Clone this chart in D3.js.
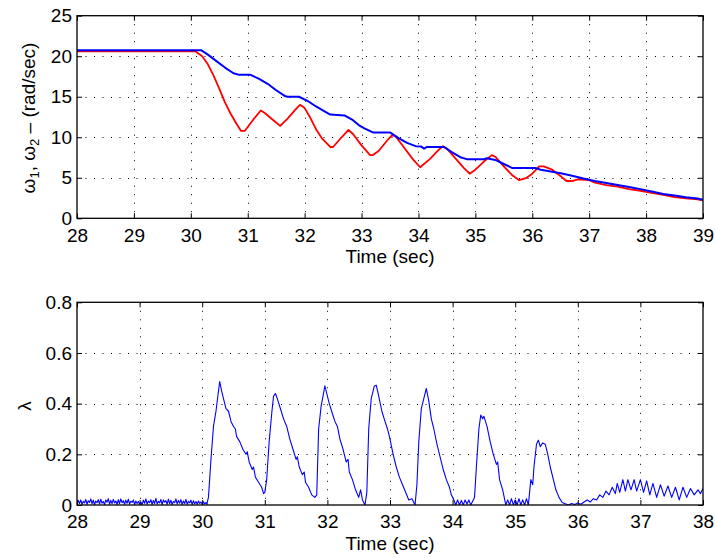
<!DOCTYPE html>
<html><head><meta charset="utf-8">
<script src="https://cdn.jsdelivr.net/npm/d3@7/dist/d3.min.js"></script>
<style>
body{margin:0;background:#fff;}
text{font-family:"Liberation Sans",Arial,Helvetica,sans-serif;}
</style></head>
<body><svg id="c" width="716" height="558"></svg>
<script>
// ---- Data ----
const timeTicksTop = [28,29,30,31,32,33,34,35,36,37,38,39];
const omegaTicks = [0,5,10,15,20,25];
const timeTicksBottom = [28,29,30,31,32,33,34,35,36,37,38];
const lambdaTicks = [0,0.2,0.4,0.6,0.8];
const lambdaTickLabels = ["0","0.2","0.4","0.6","0.8"];

// omega_1 (red)
const omega1 = [[28,20.6],[30.08,20.6],[30.2,20.0],[30.3,19.0],[30.4,17.6],[30.5,16.0],[30.6,14.3],[30.7,12.9],[30.8,11.7],[30.88,10.8],[30.95,10.8],[31.1,12.2],[31.23,13.3],[31.3,13.0],[31.45,12.1],[31.57,11.4],[31.7,12.3],[31.85,13.5],[31.92,14.0],[32.0,13.6],[32.1,12.4],[32.2,11.0],[32.3,9.9],[32.45,8.8],[32.5,8.8],[32.65,10.0],[32.77,10.9],[32.85,10.4],[33.0,9.0],[33.15,7.8],[33.2,7.8],[33.3,8.3],[33.45,9.6],[33.54,10.3],[33.6,10.1],[33.75,8.7],[33.9,7.3],[34.03,6.3],[34.2,7.3],[34.35,8.4],[34.43,8.9],[34.5,8.6],[34.65,7.4],[34.8,6.2],[34.9,5.5],[35.0,6.0],[35.15,7.0],[35.29,7.8],[35.35,7.6],[35.5,6.4],[35.65,5.3],[35.77,4.7],[35.9,5.0],[36.0,5.5],[36.12,6.4],[36.2,6.4],[36.35,6.0],[36.5,5.2],[36.6,4.6],[36.7,4.6],[36.8,4.8],[37.0,4.7],[37.1,4.4],[37.3,4.1],[37.5,3.9],[37.7,3.6],[37.9,3.4],[38.1,3.15],[38.3,2.9],[38.5,2.6],[38.7,2.45],[38.9,2.35],[39,2.2]];

// omega_2 (blue)
const omega2 = [[28,20.75],[30.18,20.75],[30.3,20.2],[30.45,19.4],[30.6,18.6],[30.75,17.9],[30.85,17.7],[31.05,17.7],[31.2,17.2],[31.35,16.6],[31.5,15.8],[31.65,15.1],[31.7,15.0],[31.9,15.0],[32.05,14.5],[32.2,13.8],[32.35,13.2],[32.45,12.8],[32.7,12.7],[32.85,12.1],[32.95,11.5],[33.05,11.1],[33.2,10.6],[33.5,10.6],[33.65,9.9],[33.8,9.3],[33.95,8.9],[34.05,8.85],[34.1,8.6],[34.15,8.8],[34.45,8.8],[34.6,8.1],[34.75,7.5],[34.85,7.3],[35.15,7.3],[35.2,7.4],[35.35,7.2],[35.5,6.7],[35.65,6.2],[36.05,6.2],[36.15,6.0],[36.3,5.8],[36.5,5.55],[36.7,5.25],[36.9,4.9],[37.1,4.6],[37.3,4.35],[37.5,4.1],[37.7,3.85],[37.9,3.6],[38.1,3.3],[38.3,3.0],[38.5,2.8],[38.7,2.6],[38.9,2.45],[39,2.3]];

// lambda: pre-event chatter (sampled every 0.02 s from t = 28)
const lambdaNoiseStart = 28, lambdaNoiseStep = 0.02;
const lambdaNoise = [0.004,0.018,0.006,0.02,0.002,0.015,0.008,0.022,0.003,0.017,0.01,0.024,0.005,0.019,0.001,0.016,0.009,0.021,0.004,0.023,0.007,0.014,0.002,0.02,0.011,0.025,0.003,0.018,0.006,0.022,0.008,0.016,0.002,0.021,0.005,0.024,0.009,0.017,0.003,0.019,0.007,0.023,0.004,0.015,0.01,0.02,0.002,0.016,0.006,0.014,0.003,0.012,
0.001,0.019,0.007,0.024,0.003,0.016,0.009,0.021,0.002,0.018,0.006,0.026,0.004,0.015,0.008,0.022,0.001,0.02,0.011,0.017,0.003,0.023,0.005,0.019,0.002,0.014,0.009,0.024,0.004,0.018,0.007,0.021,0.002,0.016,0.006,0.022,0.003,0.015,0.008,0.019,0.002,0.017,0.005,0.014,0.003,0.016,0.006,0.012,0.002,0.013,0.004,0.01,0.003];

// lambda: main response
const lambdaMain = [[30.08,0.01],[30.1,0.03],[30.14,0.18],[30.18,0.31],[30.22,0.37],[30.25,0.43],[30.28,0.487],[30.31,0.45],[30.35,0.41],[30.38,0.38],[30.42,0.37],[30.46,0.33],[30.5,0.31],[30.53,0.3],[30.55,0.27],[30.6,0.25],[30.65,0.22],[30.7,0.2],[30.72,0.21],[30.75,0.17],[30.8,0.14],[30.82,0.15],[30.85,0.11],[30.9,0.09],[30.95,0.07],[30.98,0.045],[31.0,0.05],[31.03,0.1],[31.07,0.25],[31.11,0.36],[31.14,0.43],[31.17,0.44],[31.2,0.42],[31.25,0.38],[31.3,0.34],[31.35,0.31],[31.4,0.26],[31.45,0.22],[31.5,0.18],[31.52,0.19],[31.55,0.15],[31.6,0.12],[31.63,0.13],[31.65,0.09],[31.7,0.07],[31.75,0.04],[31.8,0.03],[31.83,0.04],[31.86,0.3],[31.9,0.39],[31.93,0.43],[31.96,0.47],[31.99,0.44],[32.03,0.4],[32.08,0.36],[32.12,0.33],[32.16,0.31],[32.2,0.26],[32.25,0.22],[32.3,0.17],[32.33,0.18],[32.35,0.13],[32.4,0.1],[32.45,0.06],[32.5,0.03],[32.53,0.06],[32.56,0.02],[32.6,0.0],[32.63,0.05],[32.66,0.3],[32.7,0.42],[32.75,0.47],[32.78,0.473],[32.82,0.43],[32.87,0.37],[32.92,0.33],[32.96,0.3],[33.0,0.26],[33.05,0.2],[33.1,0.15],[33.15,0.11],[33.2,0.08],[33.25,0.05],[33.3,0.02],[33.35,0.025],[33.4,0.0],[33.43,0.08],[33.46,0.25],[33.5,0.38],[33.53,0.41],[33.58,0.46],[33.62,0.41],[33.66,0.34],[33.7,0.3],[33.75,0.24],[33.8,0.19],[33.85,0.14],[33.9,0.1],[33.95,0.07],[33.98,0.04],[34.02,0.02],[34.05,0.0],[34.08,0.02],[34.11,0.0],[34.14,0.018],[34.17,0.0],[34.2,0.02],[34.23,0.004],[34.26,0.02],[34.29,0.0],[34.32,0.015],[34.35,0.03],[34.38,0.15],[34.42,0.3],[34.45,0.355],[34.48,0.34],[34.5,0.35],[34.55,0.31],[34.6,0.25],[34.65,0.2],[34.7,0.16],[34.72,0.17],[34.75,0.1],[34.8,0.06],[34.85,0.0],[34.88,0.02],[34.91,0.0],[34.94,0.025],[34.97,0.0],[35.0,0.02],[35.03,0.0],[35.06,0.025],[35.09,0.0],[35.12,0.02],[35.15,0.0],[35.18,0.025],[35.21,0.0],[35.25,0.1],[35.28,0.08],[35.3,0.15],[35.34,0.24],[35.37,0.256],[35.4,0.23],[35.44,0.245],[35.48,0.24],[35.52,0.2],[35.56,0.15],[35.6,0.11],[35.65,0.06],[35.7,0.03],[35.75,0.01],[35.8,0.005],[35.85,0.0],[35.9,0.006],[35.95,0.002],[36.0,0.008],[36.05,0.003],[36.1,0.012],[36.15,0.02],[36.2,0.012],[36.25,0.025],[36.3,0.02],[36.35,0.04],[36.4,0.03],[36.45,0.055],[36.5,0.04],[36.55,0.07],[36.6,0.045],[36.63,0.085],[36.67,0.05],[36.72,0.1],[36.76,0.055],[36.8,0.1],[36.85,0.06],[36.9,0.1],[36.94,0.055],[37.0,0.1],[37.05,0.05],[37.1,0.095],[37.15,0.04],[37.2,0.085],[37.26,0.03],[37.32,0.08],[37.38,0.035],[37.44,0.075],[37.5,0.03],[37.56,0.07],[37.62,0.02],[37.68,0.07],[37.74,0.03],[37.8,0.065],[37.86,0.04],[37.92,0.06],[37.96,0.045],[38.0,0.065]];

// ---- Drawing ----
const svg = d3.select("#c");
const FS = 19;

function panel(opts){
  const {left,right,top,bottom,xDomain,yDomain,xTicks,yTicks,yFmt,xPad,id} = opts;
  const x = d3.scaleLinear().domain(xDomain).range([left,right]);
  const y = d3.scaleLinear().domain(yDomain).range([bottom,top]);
  const g = svg.append("g");
  const grid = g.append("g").attr("stroke","#000").attr("stroke-width",1).attr("stroke-dasharray","1,7.5");
  grid.selectAll(".gx").data(xTicks.slice(1,-1)).enter().append("line")
    .attr("x1",d=>Math.round(x(d))+0.5).attr("x2",d=>Math.round(x(d))+0.5).attr("y1",top).attr("y2",bottom);
  grid.selectAll(".gy").data(yTicks.slice(1,-1)).enter().append("line")
    .attr("y1",d=>Math.round(y(d))+0.5).attr("y2",d=>Math.round(y(d))+0.5).attr("x1",left).attr("x2",right);
  svg.append("clipPath").attr("id",id).append("rect").attr("x",left).attr("y",top-1).attr("width",right-left).attr("height",bottom-top+1);
  const lines = g.append("g").attr("clip-path",`url(#${id})`);
  const ax = (gen)=>gen.tickSizeInner(-5).tickSizeOuter(0);
  const bx = g.append("g").attr("transform",`translate(0,${bottom})`)
    .call(ax(d3.axisBottom(x).tickValues(xTicks).tickFormat(d3.format("d"))).tickPadding(xPad));
  const tx = g.append("g").attr("transform",`translate(0,${top})`)
    .call(ax(d3.axisTop(x).tickValues(xTicks).tickFormat("")));
  const ly = g.append("g").attr("transform",`translate(${left},0)`)
    .call(ax(d3.axisLeft(y).tickValues(yTicks).tickFormat(yFmt)).tickPadding(5));
  const ry = g.append("g").attr("transform",`translate(${right},0)`)
    .call(ax(d3.axisRight(y).tickValues(yTicks).tickFormat("")));
  [bx,tx,ly,ry].forEach(a=>{
    a.select(".domain").remove();
    a.selectAll("line").attr("stroke","#000").attr("stroke-width",1);
    a.selectAll("text").attr("font-size",FS).attr("fill","#000").attr("font-family","Liberation Sans, Arial, sans-serif");
  });
  g.append("rect").attr("x",left).attr("y",top).attr("width",right-left).attr("height",bottom-top)
    .attr("fill","none").attr("stroke","#000").attr("stroke-width",1.3);
  return {x,y,lines};
}

// Top panel
const p1 = panel({left:77,right:703,top:15.7,bottom:218.3,xDomain:[28,39],yDomain:[0,25],
  xTicks:timeTicksTop,yTicks:omegaTicks,yFmt:d3.format("d"),xPad:10,id:"clip1"});
const line1 = d3.line().x(d=>p1.x(d[0])).y(d=>p1.y(d[1]));
p1.lines.append("path").attr("d",line1(omega1)).attr("fill","none").attr("stroke","#ff0000").attr("stroke-width",1.8).attr("stroke-linejoin","round");
p1.lines.append("path").attr("d",line1(omega2)).attr("fill","none").attr("stroke","#0000ff").attr("stroke-width",2).attr("stroke-linejoin","round");

svg.append("text").attr("x",390).attr("y",263).attr("text-anchor","middle").attr("font-size",FS).text("Time (sec)");
const yl = svg.append("text").attr("transform","translate(35,118) rotate(-90)").attr("text-anchor","middle").attr("font-size",FS);
yl.append("tspan").text("ω");
yl.append("tspan").attr("font-size",13).attr("dy",4).text("1");
yl.append("tspan").attr("dy",-4).text(", ω");
yl.append("tspan").attr("font-size",13).attr("dy",4).text("2");
yl.append("tspan").attr("dy",-4).text(" – (rad/sec)");

// Bottom panel
const p2 = panel({left:77,right:703,top:302.3,bottom:505,xDomain:[28,38],yDomain:[0,0.8],
  xTicks:timeTicksBottom,yTicks:lambdaTicks,yFmt:(d,i)=>lambdaTickLabels[i],xPad:9.5,id:"clip2"});
const noisePts = lambdaNoise.map((v,i)=>[lambdaNoiseStart+i*lambdaNoiseStep,v]);
const lambdaAll = noisePts.concat(lambdaMain);
const line2 = d3.line().x(d=>p2.x(d[0])).y(d=>p2.y(d[1]));
p2.lines.append("path").attr("d",line2(lambdaAll)).attr("fill","none").attr("stroke","#0000ff").attr("stroke-width",1.1).attr("stroke-linejoin","round");

svg.append("text").attr("x",390).attr("y",550).attr("text-anchor","middle").attr("font-size",FS).text("Time (sec)");
svg.append("text").attr("transform","translate(31,406) rotate(-90)").attr("text-anchor","middle").attr("font-size",FS).text("λ");
</script></body></html>
